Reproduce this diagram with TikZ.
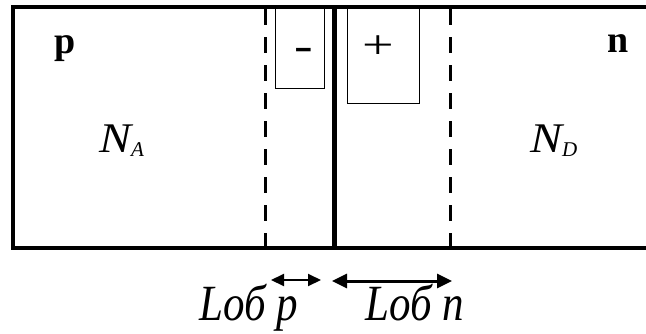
\documentclass[tikz,border=0pt]{standalone}
\usepackage{fontspec}
\setmainfont{Liberation Serif}
\usetikzlibrary{arrows.meta}
\begin{document}
\begin{tikzpicture}[x=1pt,y=-1pt,
  border/.style={line width=4.5pt, line join=miter},
  junction/.style={line width=5pt},
  depedge/.style={line width=3pt, dash pattern=on 16pt off 12pt},
  chargebox/.style={line width=1pt},
  regionlabel/.style={inner sep=0pt, anchor=base, font=\fontsize{38}{38}\selectfont\bfseries},
  chargelabel/.style={inner sep=0pt, anchor=base},
  widthlabel/.style={inner sep=0pt, anchor=base, font=\fontsize{43}{43}\selectfont\itshape},
  dopelabel/.style={inner sep=0pt, anchor=base west},
  smallarrow/.style={line width=2pt, {Triangle[length=13pt,width=12pt]}-{Triangle[length=13pt,width=12pt]}},
  bigarrow/.style={line width=3pt, {Triangle[length=15pt,width=14pt]}-{Triangle[length=15pt,width=14pt]}}]
\useasboundingbox (0,0) rectangle (646,333);
\fill[white] (0,0) rectangle (646,333);
% key coordinates
\coordinate (dl top) at (265.5,9);
\coordinate (dl bot) at (265.5,248);
\coordinate (dr top) at (450,9);
\coordinate (dr bot) at (450,248);
\coordinate (jc top) at (334,7);
\coordinate (jc bot) at (334,248);
% charge boxes
\draw[chargebox] (275.5,7) rectangle (324,88.5);
\draw[chargebox] (347,7) rectangle (419.5,103);
\node[chargelabel, font=\fontsize{40}{40}\selectfont\bfseries] (minus) at (303.5,59.5) {\scalebox{1.4}[1]{-}};
\node[chargelabel, font=\fontsize{56}{56}\selectfont] (plus) at (378,58) {\scalebox{1}[0.72]{+}};
% depletion edges
\draw[depedge] (dl top) -- (dl bot);
\draw[depedge] (dr top) -- (dr bot);
% junction
\draw[junction] (jc top) -- (jc bot);
% outer frame
\draw[border] (660,7) -- (13,7) -- (13,248) -- (660,248);
% region labels
\node[regionlabel] (p) at (65,53) {p};
\node[regionlabel] (n) at (618,52) {n};
\node[dopelabel] (NA) at (99,152) {\fontsize{48}{48}\selectfont\itshape\scalebox{1}[0.88]{N}\raisebox{-4pt}{\fontsize{21}{21}\selectfont A}};
\begin{scope}
\clip (500,100) rectangle (646,155);
\node[dopelabel] (ND) at (530,152) {\fontsize{48}{48}\selectfont\itshape\scalebox{1}[0.88]{N}\raisebox{-4pt}{\fontsize{21}{21}\selectfont D}};
\end{scope}
% widths
\draw[smallarrow] (271,280) -- (321,280);
\draw[bigarrow] (332,281) -- (452,281);
\node[widthlabel] (lp) at (249,320) {\scalebox{1}[1.18]{Lоб p}};
\node[widthlabel] (ln) at (415,320) {\scalebox{1}[1.18]{Lоб n}};
\end{tikzpicture}
\end{document}
